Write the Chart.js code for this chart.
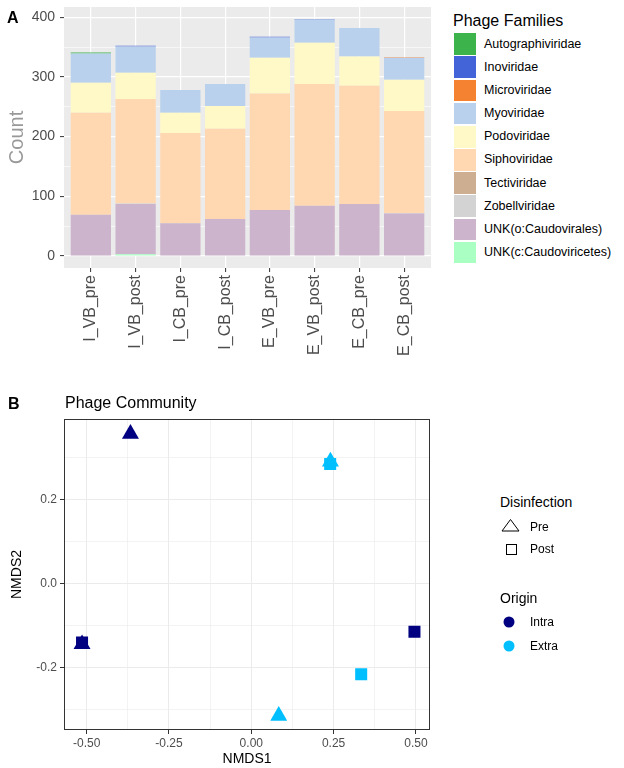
<!DOCTYPE html>
<html><head><meta charset="utf-8">
<script src="https://cdn.jsdelivr.net/npm/chart.js@4.4.1/dist/chart.umd.min.js"></script>
<style>
html,body{margin:0;padding:0;background:#fff;}
#wrap{position:relative;width:624px;height:768px;overflow:hidden;font-family:'Liberation Sans',Arial,sans-serif;color:#000;}
.t{position:absolute;white-space:nowrap;}
canvas{position:absolute;}
</style></head><body>
<div id="wrap">
<canvas id="cA" width="440" height="375" style="left:0;top:0"></canvas>
<canvas id="cB" width="440" height="388" style="left:0;top:380px"></canvas>
<div class="t" style="left:7px;top:10px;font-size:16px;line-height:16px;font-weight:bold;">A</div>
<div class="t" style="left:453px;top:13px;font-size:16px;line-height:16px;">Phage Families</div>
<div id="legA"></div>
<div class="t" style="left:8px;top:396px;font-size:16px;line-height:16px;font-weight:bold;">B</div>
<div class="t" style="left:65px;top:395px;font-size:16px;line-height:16px;">Phage Community</div>
<div class="t" style="left:500px;top:495px;font-size:14px;line-height:14px;">Disinfection</div>
<svg style="position:absolute;left:0;top:0" width="624" height="768">
  <polygon points="510.5,519.5 519,531 502,531" fill="none" stroke="#000" stroke-width="1"/>
  <rect x="506.5" y="544.5" width="10" height="10" fill="none" stroke="#000" stroke-width="1"/>
  <circle cx="509" cy="622" r="5.5" fill="#000080"/>
  <circle cx="509" cy="646" r="5.5" fill="#00BFFF"/>
</svg>
<div class="t" style="left:530px;top:521px;font-size:12px;line-height:12px;">Pre</div>
<div class="t" style="left:530px;top:543px;font-size:12px;line-height:12px;">Post</div>
<div class="t" style="left:500px;top:591px;font-size:14px;line-height:14px;">Origin</div>
<div class="t" style="left:530px;top:616px;font-size:12px;line-height:12px;">Intra</div>
<div class="t" style="left:530px;top:640px;font-size:12px;line-height:12px;">Extra</div>
</div>
<script>
// ---------- Panel A data ----------
const samples = ['I_VB_pre','I_VB_post','I_CB_pre','I_CB_post','E_VB_pre','E_VB_post','E_CB_pre','E_CB_post'];
const families = ['Autographiviridae','Inoviridae','Microviridae','Myoviridae','Podoviridae','Siphoviridae','Tectiviridae','Zobellviridae','UNK(o:Caudovirales)','UNK(c:Caudoviricetes)'];
const autographiviridae = [2, 0, 0, 0, 0, 0, 0, 0];
const inoviridae        = [0, 1, 0, 0, 1, 1, 0, 0];
const microviridae      = [0, 0, 0, 0, 0, 0, 0, 1];
const myoviridae        = [49, 44, 38, 37, 34, 39, 48, 37];
const podoviridae       = [50, 44, 34, 38, 60, 69, 49, 52];
const siphoviridae      = [171, 175, 151, 151, 195, 204, 198, 171];
const tectiviridae      = [0, 0, 0, 0, 0, 0, 0, 0];
const zobellviridae     = [0, 1, 0, 0, 0, 0, 0, 1];
const unkCaudovirales   = [69, 84, 54, 61, 77, 84, 86, 70];
const unkCaudoviricetes = [0, 3, 1, 1, 0, 0, 1, 1];
const countTicks = [0, 100, 200, 300, 400];

// ---------- Panel B data ----------
const nmdsSamples = ['I_VB_pre','I_VB_post','I_CB_pre','I_CB_post','E_VB_pre','E_VB_post','E_CB_pre','E_CB_post'];
const nmds1 = [-0.367, 0.4955, -0.514, -0.514, 0.0833, 0.3337, 0.2403, 0.2395];
const nmds2 = [0.356, -0.1155, -0.145, -0.141, -0.3155, -0.2164, 0.290, 0.284];
const origin = ['Intra','Intra','Intra','Intra','Extra','Extra','Extra','Extra'];
const disinfection = ['Pre','Post','Pre','Post','Pre','Post','Pre','Post'];
const nmds1Ticks = [-0.5, -0.25, 0, 0.25, 0.5];
const nmds2Ticks = [-0.2, 0, 0.2];

// ---------- styles ----------
const FONT = "'Liberation Sans', Arial, sans-serif";
const familyValues = [autographiviridae, inoviridae, microviridae, myoviridae, podoviridae, siphoviridae, tectiviridae, zobellviridae, unkCaudovirales, unkCaudoviricetes];
const familyColors = ['#3CB44B','#4363D8','#F58231','#B9D1EC','#FFF9C8','#FFD8B1','#CDAE91','#D3D3D3','#CBB4CC','#AAFFC3'];
const originColors = {Intra: '#000080', Extra: '#00BFFF'};
const shapeStyle = {Pre: {pointStyle: 'triangle', r: 9.8}, Post: {pointStyle: 'rect', r: 8.5}};

// HTML legend for panel A
const legA = document.getElementById('legA');
families.forEach((f, i) => {
  const top = 33.3 + 23.15 * i;
  const b = document.createElement('div');
  b.style.cssText = `position:absolute;left:454px;top:${top}px;width:21.7px;height:21.7px;background:${familyColors[i]};`;
  legA.appendChild(b);
  const t = document.createElement('div');
  t.className = 't';
  t.style.cssText = `left:484px;top:${top + 10.85 - 6.5}px;font-size:12.5px;line-height:13px;`;
  t.textContent = f;
  legA.appendChild(t);
});

// ---------- Chart A ----------
const barDatasets = families.map((f, i) => ({
  label: f,
  data: familyValues[i].map((v, j) => ({x: j, y: v})),
  backgroundColor: familyColors[i],
  borderWidth: 0,
  categoryPercentage: 1,
  barPercentage: 0.9
})).reverse();

const panelBg = {
  id: 'panelBg',
  beforeDraw(chart, args, opts) {
    const {ctx, chartArea: a} = chart;
    ctx.save();
    ctx.fillStyle = opts.color;
    ctx.fillRect(a.left, a.top, a.right - a.left, a.bottom - a.top);
    ctx.restore();
  },
  afterDraw(chart, args, opts) {
    if (!opts.border) return;
    const {ctx, chartArea: a} = chart;
    ctx.save();
    ctx.strokeStyle = opts.border;
    ctx.lineWidth = 1;
    ctx.strokeRect(Math.round(a.left) + 0.5, Math.round(a.top) + 0.5, Math.round(a.right - a.left) - 1, Math.round(a.bottom - a.top) - 1);
    ctx.restore();
  }
};

Chart.defaults.font.family = FONT;

new Chart(document.getElementById('cA'), {
  type: 'bar',
  data: {datasets: barDatasets},
  plugins: [panelBg],
  options: {
    responsive: false, animation: false, events: [],
    layout: {padding: {left: 0, right: 9, top: 7, bottom: 0}},
    plugins: {legend: {display: false}, tooltip: {enabled: false}, panelBg: {color: '#EBEBEB'}},
    scales: {
      x: {
        type: 'linear', min: -0.6, max: 7.6, offset: false, stacked: true,
        afterBuildTicks: s => { s.ticks = samples.map((_, i) => ({value: i})); },
        afterFit: s => { s.height = 107; s.paddingLeft = 0; s.paddingRight = 0; },
        grid: {offset: false, color: '#FFFFFF', lineWidth: 1.2, tickColor: '#333333', tickLength: 4, tickWidth: 1},
        border: {display: false},
        ticks: {autoSkip: false, maxRotation: 90, minRotation: 90, padding: 3, color: '#4D4D4D', font: {size: 16},
                callback: v => samples[v] ?? ''}
      },
      y: {
        stacked: true, min: -20.1, max: 417,
        afterBuildTicks: s => {
          const t = [];
          for (let i = 0; i < countTicks.length; i++) {
            t.push({value: countTicks[i]});
            if (i < countTicks.length - 1) t.push({value: (countTicks[i] + countTicks[i + 1]) / 2});
          }
          s.ticks = t;
        },
        afterFit: s => { s.width = 64; s.paddingTop = 0; s.paddingBottom = 0; },
        grid: {color: '#FFFFFF',
               lineWidth: c => (c.tick && countTicks.includes(c.tick.value)) ? 1.2 : 0.6,
               tickColor: c => (c.tick && countTicks.includes(c.tick.value)) ? '#333333' : 'rgba(0,0,0,0)',
               tickLength: 4, tickWidth: 1},
        border: {display: false},
        ticks: {padding: 5, color: '#4D4D4D', font: {size: 14},
                callback: v => countTicks.includes(v) ? String(v) : ''},
        title: {display: true, text: 'Count', color: '#999999', font: {size: 20}, padding: {top: 5, bottom: 0}}
      }
    }
  }
});

// ---------- Chart B ----------
const groups = [['Intra','Pre'],['Intra','Post'],['Extra','Pre'],['Extra','Post']];
const scatterDatasets = groups.map(([o, d]) => ({
  label: o + ' ' + d,
  data: nmds1.map((x, i) => ({x, y: nmds2[i], o: origin[i], d: disinfection[i]})).filter(p => p.o === o && p.d === d).map(p => ({x: p.x, y: p.y})),
  pointStyle: shapeStyle[d].pointStyle,
  pointRadius: shapeStyle[d].r,
  backgroundColor: originColors[o],
  borderColor: originColors[o],
  borderWidth: 0
}));

const majorX = v => nmds1Ticks.some(t => Math.abs(t - v) < 1e-9);
const majorY = v => nmds2Ticks.some(t => Math.abs(t - v) < 1e-9);
const withMinor = arr => {
  const t = [];
  const step = arr[1] - arr[0];
  t.push(arr[0] - step / 2);
  for (let i = 0; i < arr.length; i++) { t.push(arr[i]); t.push(arr[i] + step / 2); }
  return t;
};

new Chart(document.getElementById('cB'), {
  type: 'scatter',
  data: {datasets: scatterDatasets},
  plugins: [panelBg],
  options: {
    responsive: false, animation: false, events: [],
    layout: {padding: {left: 0, right: 9, top: 39, bottom: 0}},
    plugins: {legend: {display: false}, tooltip: {enabled: false}, panelBg: {color: '#FFFFFF', border: '#333333'}},
    scales: {
      x: {
        type: 'linear', min: -0.5688, max: 0.5433,
        afterBuildTicks: s => { s.ticks = withMinor(nmds1Ticks).filter(v => v >= s.min && v <= s.max).map(v => ({value: v})); },
        afterFit: s => { s.height = 38; s.paddingLeft = 0; s.paddingRight = 0; },
        grid: {color: '#EBEBEB',
               lineWidth: c => (c.tick && majorX(c.tick.value)) ? 1 : 0.6,
               tickColor: c => (c.tick && majorX(c.tick.value)) ? '#333333' : 'rgba(0,0,0,0)',
               tickLength: 4, tickWidth: 1},
        border: {display: false},
        ticks: {autoSkip: false, maxRotation: 0, padding: 2, color: '#4D4D4D', font: {size: 12},
                callback: v => majorX(v) ? v.toFixed(2) : ''},
        title: {display: true, text: 'NMDS1', color: '#000', font: {size: 14}, padding: {top: 0, bottom: 0}}
      },
      y: {
        type: 'linear', min: -0.3493, max: 0.3912,
        afterBuildTicks: s => { s.ticks = withMinor(nmds2Ticks).filter(v => v >= s.min && v <= s.max).map(v => ({value: v})); },
        afterFit: s => { s.width = 64; s.paddingTop = 0; s.paddingBottom = 0; },
        grid: {color: '#EBEBEB',
               lineWidth: c => (c.tick && majorY(c.tick.value)) ? 1 : 0.6,
               tickColor: c => (c.tick && majorY(c.tick.value)) ? '#333333' : 'rgba(0,0,0,0)',
               tickLength: 4, tickWidth: 1},
        border: {display: false},
        ticks: {autoSkip: false, padding: 3, color: '#4D4D4D', font: {size: 12},
                callback: v => majorY(v) ? v.toFixed(1) : ''},
        title: {display: true, text: 'NMDS2', color: '#000', font: {size: 14}, padding: {top: 9, bottom: 0}}
      }
    }
  }
});
</script>
</body></html>
